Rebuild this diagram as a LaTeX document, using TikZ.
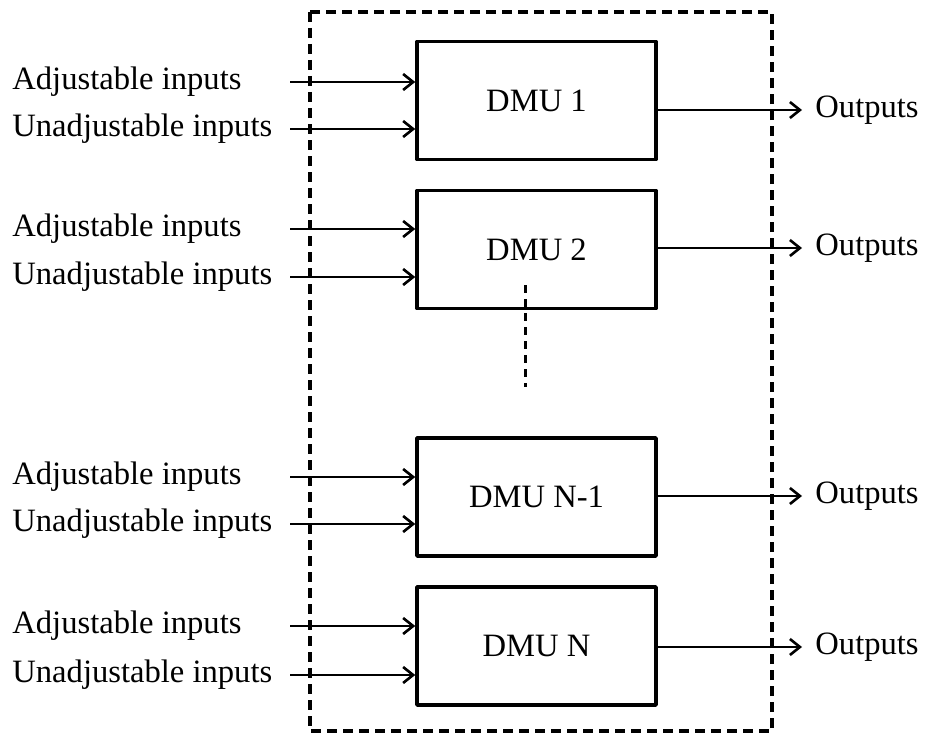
\documentclass[tikz,border=0pt]{standalone}
\usepackage{fontspec}
\setmainfont{Liberation Serif}
\usetikzlibrary{arrows.meta}

\begin{document}
\begin{tikzpicture}[x=0.5pt,y=-0.5pt,font=\fontsize{16.3}{19}\selectfont]

    \useasboundingbox (0,0) rectangle (935,733);
    \draw[line width=1.6pt,dash pattern=on 5pt off 3pt] (310,12) rectangle (772,731);

    \begin{scope}[every node/.style={draw,line width=1.8pt,line join=round,minimum width=119.5pt,minimum height=59pt}]
        \node (1) at (536.5,100.5) {DMU 1};
        \node (2) at (536.5,249.5) {DMU 2};
        \node (3) at (536.5,497) {DMU N-1};
        \node (4) at (536.5,646) {DMU N};
    \end{scope}

    % inputs and outputs
    \begin{scope}[every node/.style={inner sep=0pt}]
        \coordinate (a1) at (290,82);  \node[anchor=west] at (12,82) {Adjustable inputs};
        \coordinate (u1) at (290,129); \node[anchor=west] at (12,129) {Unadjustable inputs};
        \coordinate (o1) at (802,110); \node[anchor=west] at (815,110) {Outputs};

        \coordinate (a2) at (290,229); \node[anchor=west] at (12,229) {Adjustable inputs};
        \coordinate (u2) at (290,277); \node[anchor=west] at (12,277) {Unadjustable inputs};
        \coordinate (o2) at (802,248); \node[anchor=west] at (815,248) {Outputs};

        \coordinate (a3) at (290,477); \node[anchor=west] at (12,477) {Adjustable inputs};
        \coordinate (u3) at (290,524); \node[anchor=west] at (12,524) {Unadjustable inputs};
        \coordinate (o3) at (802,496); \node[anchor=west] at (815,496) {Outputs};

        \coordinate (a4) at (290,626); \node[anchor=west] at (12,626) {Adjustable inputs};
        \coordinate (u4) at (290,675); \node[anchor=west] at (12,675) {Unadjustable inputs};
        \coordinate (o4) at (802,647); \node[anchor=west] at (815,647) {Outputs};
    \end{scope}

    \begin{scope}[every path/.style={draw,line width=1.2pt,-{Straight Barb[length=5pt,width=8pt,line width=1.3pt]}}]
        \path (a1) -- (a1 -| 1.west);
        \path (u1) -- (u1 -| 1.west);
        \path (1.east |- o1) -- (o1);

        \path (a2) -- (a2 -| 2.west);
        \path (u2) -- (u2 -| 2.west);
        \path (2.east |- o2) -- (o2);

        \path (a3) -- (a3 -| 3.west);
        \path (u3) -- (u3 -| 3.west);
        \path (3.east |- o3) -- (o3);

        \path (a4) -- (a4 -| 4.west);
        \path (u4) -- (u4 -| 4.west);
        \path (4.east |- o4) -- (o4);
    \end{scope}

    % dots between DMU 2 and DMU N-1
    \coordinate (g1) at (525,285);
    \coordinate (g2) at (525,387);
    \draw[line width=1.5pt,dash pattern=on 4pt off 3pt] (g1) -- (g2);

\end{tikzpicture}
\end{document}
